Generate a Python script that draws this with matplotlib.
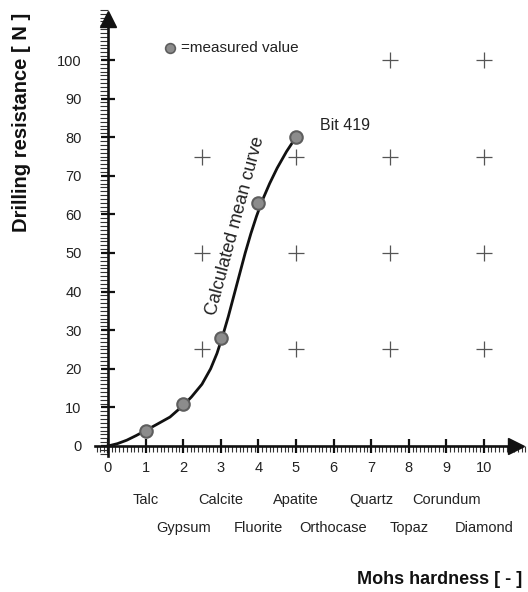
""" Drilling resistance vs Mohs hardness """

import matplotlib
matplotlib.use("Agg")
from matplotlib import pyplot as plt
from matplotlib.ticker import MultipleLocator

plt.rcParams["font.family"] = ["Liberation Sans", "DejaVu Sans"]

# measured values
hardness = [1, 2, 3, 4, 5]
resistance = [4, 11, 28, 63, 80]

# calculated mean curve
curve_x = [0, 0.25, 0.5, 0.75, 1.0, 1.3, 1.65, 2.0, 2.22, 2.5, 2.73, 2.9,
           3.05, 3.2, 3.35, 3.5, 3.65, 3.8, 3.95, 4.1, 4.3, 4.5, 4.75, 5.0]
curve_y = [0, 0.6, 1.5, 2.7, 4.0, 5.6, 7.5, 10.5, 12.7, 16.0, 20.0, 24.0,
           28.5, 33.5, 39.0, 44.5, 50.0, 55.0, 59.5, 63.5, 68.0, 72.0, 76.3,
           80.0]

# reference crosses
cross_x = [7.5, 10, 2.5, 5, 7.5, 10, 2.5, 5, 7.5, 10, 2.5, 5, 7.5, 10]
cross_y = [100, 100, 75, 75, 75, 75, 50, 50, 50, 50, 25, 25, 25, 25]

minerals = ["Talc", "Gypsum", "Calcite", "Fluorite", "Apatite",
            "Orthocase", "Quartz", "Topaz", "Corundum", "Diamond"]
mineral_hardness = [1, 2, 3, 4, 5, 6, 7, 8, 9, 10]

fig = plt.figure(figsize=(5.28, 5.92), dpi=100)
ax = fig.add_axes([0.1831, 0.2336, 0.8118, 0.7498])
ax.set_xlim(-0.3, 11.1)
ax.set_ylim(-2, 113)

for side in ("top", "right"):
    ax.spines[side].set_visible(False)
ax.spines["left"].set_position(("data", 0))
ax.spines["bottom"].set_position(("data", 0))
ax.spines["left"].set_bounds(-2.6, 110)
ax.spines["bottom"].set_bounds(-0.35, 10.8)
for side in ("left", "bottom"):
    ax.spines[side].set_linewidth(1.9)
    ax.spines[side].set_color("#111111")

# arrow heads
ax.plot(10.85, 0, ">", color="#111111", markersize=11, clip_on=False)
ax.plot(0, 110.5, "^", color="#111111", markersize=11, clip_on=False)

ax.xaxis.set_major_locator(MultipleLocator(1))
ax.xaxis.set_minor_locator(MultipleLocator(0.1))
ax.yaxis.set_major_locator(MultipleLocator(10))
ax.yaxis.set_minor_locator(MultipleLocator(1))
ax.set_xticks(range(0, 11))
ax.set_yticks(range(0, 101, 10))
ax.tick_params(which="major", direction="inout", length=10, width=1.6,
               color="#111111", labelsize=10.5, labelcolor="#222222")
ax.tick_params(axis="x", which="major", pad=6)
ax.tick_params(axis="y", which="major", pad=14)
ax.tick_params(axis="x", which="minor", direction="out", length=4.5,
               width=0.8, color="#333333")
ax.tick_params(axis="y", which="minor", direction="out", length=5.5,
               width=0.8, color="#333333")

# crosses
ax.plot(cross_x, cross_y, "+", color="#555555", markersize=11,
        markeredgewidth=0.9, linestyle="none")

# mean curve and measured points
ax.plot(curve_x, curve_y, "-", color="#111111", linewidth=2.0, zorder=3,
        solid_joinstyle="round")
ax.plot(hardness, resistance, "o", color="#8c8c8c", markeredgecolor="#5e5e5e",
        markeredgewidth=1.5, markersize=9, zorder=4)

ax.text(3.4, 57, "Calculated mean curve", rotation=75, fontsize=13,
        ha="center", va="center", color="#222222", rotation_mode="anchor")
ax.text(5.64, 83, "Bit 419", fontsize=11.5, ha="left", va="center",
        color="#222222")

# legend
ax.plot(1.65, 103, "o", color="#8c8c8c", markeredgecolor="#5e5e5e",
        markeredgewidth=1.2, markersize=7)
ax.text(1.95, 103, "=measured value", fontsize=11, ha="left", va="center",
        color="#222222")

# mineral names, alternating rows
for h, name in zip(mineral_hardness, minerals):
    row_y = -14 if h % 2 == 1 else -21.2
    ax.text(h, row_y, name, fontsize=10.5, ha="center", va="center",
            color="#222222", clip_on=False)

fig.text(522 / 528, 1 - 580 / 592, "Mohs hardness [ - ]", fontsize=13,
         fontweight="bold", ha="right", va="center", color="#111111")
fig.text(22 / 528, 1 - 122 / 592, "Drilling resistance [ N ]", fontsize=14.5,
         fontweight="bold", rotation=90, ha="center", va="center",
         color="#111111")

fig.savefig("out.png", dpi=100)
